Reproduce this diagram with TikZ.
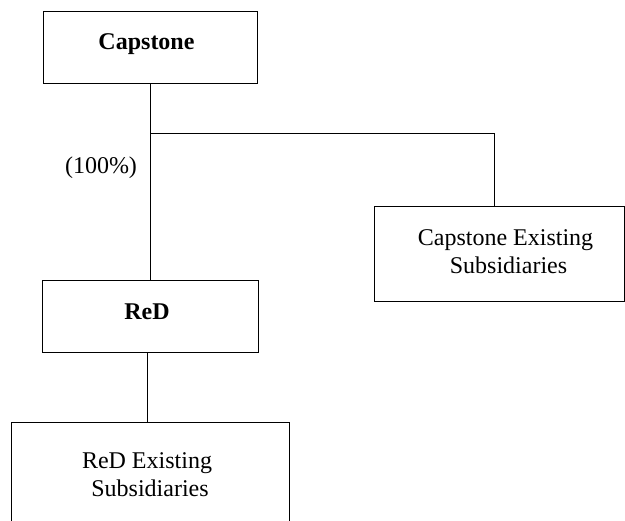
\documentclass[tikz,border=0pt]{standalone}
\usepackage{fontspec}
\setmainfont{Liberation Serif}
\begin{document}
\begin{tikzpicture}[x=1pt,y=-1pt,
  box/.style={draw,line width=0.9pt,rectangle,inner sep=0pt},
  lbl/.style={inner sep=0pt,anchor=base,font=\fontsize{24}{27.6}\selectfont},
  conn/.style={line width=0.9pt}]
\useasboundingbox (0,0) rectangle (625,521);
% boxes
\node[box,minimum width=214pt,minimum height=72pt] (cap) at (150.5,47) {};
\node[box,minimum width=250pt,minimum height=95.7pt] (capsub) at (499,254) {};
\node[box,minimum width=216pt,minimum height=71.6pt] (red) at (150.5,316.5) {};
\node[box,minimum width=277.3pt,minimum height=118pt] (redsub) at (150.35,481) {};
% texts
\node[lbl] (capt) at (146.5,50) {\bfseries Capstone};
\node[lbl] (redt) at (147,320) {\bfseries ReD};
\node[lbl] (capsubt1) at (505.5,245.7) {Capstone Existing};
\node[lbl] (capsubt2) at (508.5,274) {Subsidiaries};
\node[lbl] (redsubt1) at (147,469) {ReD Existing};
\node[lbl] (redsubt2) at (150,496.7) {Subsidiaries};
\node[lbl] (pct) at (101,174) {(100\%)};
% connectors
\coordinate (j) at (150.5,133.5);
\draw[conn] (cap.south) -- (red.north);
\draw[conn] (j) -| ([xshift=-5pt]capsub.north);
\draw[conn] ([xshift=-2.7pt]red.south) -- ([xshift=-2.7pt]red.south |- redsub.north);
\end{tikzpicture}
\end{document}
